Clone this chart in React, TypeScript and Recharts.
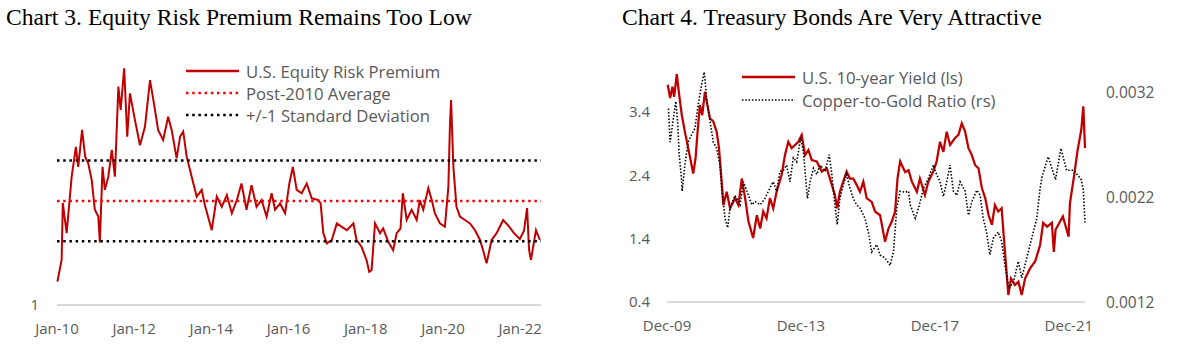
import { LineChart, Line, XAxis, YAxis, ReferenceLine } from 'recharts'

// Chart 3: U.S. equity risk premium (decimal years)
const erpYears = [
  2010.01, 2010.12, 2010.15, 2010.25, 2010.38, 2010.49, 2010.55, 2010.65, 2010.73, 2010.81,
  2010.9, 2010.98, 2011.07, 2011.11, 2011.18, 2011.24, 2011.33, 2011.42, 2011.5, 2011.59,
  2011.65, 2011.74, 2011.82, 2011.89, 2012.02, 2012.15, 2012.28, 2012.41, 2012.51, 2012.62,
  2012.75, 2012.88, 2012.97, 2013.1, 2013.19, 2013.27, 2013.36, 2013.49, 2013.62, 2013.75,
  2013.83, 2014.01, 2014.14, 2014.27, 2014.4, 2014.53, 2014.66, 2014.78, 2014.91, 2015.04,
  2015.17, 2015.3, 2015.43, 2015.56, 2015.65, 2015.78, 2015.91, 2016.02, 2016.11, 2016.21,
  2016.34, 2016.47, 2016.6, 2016.77, 2016.83, 2016.9, 2016.99, 2017.12, 2017.25, 2017.38,
  2017.51, 2017.68, 2017.76, 2017.89, 2018.02, 2018.09, 2018.15, 2018.24, 2018.37, 2018.45,
  2018.58, 2018.71, 2018.8, 2018.9, 2018.96, 2019.06, 2019.19, 2019.32, 2019.4, 2019.49,
  2019.62, 2019.71, 2019.79, 2019.92, 2020.05, 2020.14, 2020.18, 2020.21, 2020.27, 2020.35,
  2020.44, 2020.57, 2020.7, 2020.83, 2020.96, 2021.04, 2021.13, 2021.26, 2021.39, 2021.56,
  2021.72, 2021.84, 2021.99, 2022.1, 2022.18, 2022.23, 2022.28, 2022.41, 2022.51,
]
const erpValues = [
  1.55, 2.06, 3.4, 2.69, 4.02, 4.72, 4.25, 5.12, 4.49, 4.33,
  3.94, 3.24, 3.08, 2.47, 4.25, 3.71, 4.02, 4.65, 4.02, 6.14,
  5.59, 6.57, 4.96, 5.98, 5.35, 4.76, 5.2, 6.29, 5.75, 5.12,
  4.88, 5.43, 5.12, 4.45, 4.96, 5.08, 4.49, 4.02, 3.55, 3.71,
  3.35, 2.76, 3.55, 3.31, 3.59, 3.16, 3.47, 3.86, 3.24, 3.82,
  3.31, 3.47, 3.08, 3.63, 3.24, 3.39, 3.16, 3.86, 4.25, 3.71,
  3.63, 3.86, 3.51, 3.47, 3.39, 2.69, 2.45, 2.53, 2.92, 2.84,
  2.76, 2.92, 2.53, 2.37, 2.06, 1.78, 1.82, 2.92, 2.69, 2.8,
  2.49, 2.29, 2.69, 2.8, 3.63, 3.0, 3.24, 3.0, 3.47, 3.24,
  3.75, 3.47, 3.16, 2.92, 2.84, 3.78, 5.2, 5.82, 4.25, 3.31,
  3.08, 3.0, 2.92, 2.76, 2.53, 2.29, 1.98, 2.53, 2.69, 3.0,
  2.84, 2.69, 2.55, 2.75, 3.28, 2.3, 2.06, 2.76, 2.53,
]
const erpAverage = 3.45
const erpStdDev = 0.95
const janTicks = [2010, 2012, 2014, 2016, 2018, 2020, 2022]

// Chart 4: U.S. 10-year yield (ls) and copper-to-gold ratio (rs)
const yieldYears = [
  2009.94, 2010.01, 2010.08, 2010.13, 2010.21, 2010.28, 2010.36, 2010.45, 2010.55, 2010.63,
  2010.7, 2010.77, 2010.83, 2010.9, 2010.97, 2011.05, 2011.13, 2011.2, 2011.3, 2011.4,
  2011.47, 2011.55, 2011.6, 2011.7, 2011.8, 2011.95, 2012.05, 2012.15, 2012.25, 2012.35,
  2012.49, 2012.6, 2012.7, 2012.79, 2012.89, 2012.99, 2013.09, 2013.19, 2013.34, 2013.44,
  2013.54, 2013.64, 2013.74, 2013.84, 2013.94, 2014.04, 2014.14, 2014.24, 2014.39, 2014.54,
  2014.69, 2014.84, 2014.93, 2015.0, 2015.08, 2015.18, 2015.28, 2015.38, 2015.48, 2015.58,
  2015.68, 2015.78, 2015.88, 2016.03, 2016.13, 2016.28, 2016.43, 2016.53, 2016.63, 2016.73,
  2016.8, 2016.88, 2017.03, 2017.13, 2017.23, 2017.38, 2017.47, 2017.62, 2017.72, 2017.87,
  2017.97, 2018.07, 2018.17, 2018.27, 2018.37, 2018.52, 2018.62, 2018.72, 2018.82, 2018.92,
  2019.02, 2019.12, 2019.22, 2019.32, 2019.42, 2019.52, 2019.62, 2019.71, 2019.81, 2019.91,
  2020.01, 2020.11, 2020.19, 2020.31, 2020.41, 2020.51, 2020.61, 2020.76, 2020.91, 2021.06,
  2021.15, 2021.27, 2021.41, 2021.47, 2021.52, 2021.74, 2021.91, 2021.95, 2022.07, 2022.18,
  2022.29, 2022.35, 2022.4,
]
const yieldValues = [
  3.83, 3.62, 3.8, 3.64, 4.0, 3.67, 3.35, 3.09, 2.83, 2.62,
  2.43, 2.67, 3.09, 3.51, 3.35, 3.72, 3.49, 3.3, 3.25, 3.09,
  2.83, 2.3, 1.93, 2.14, 1.88, 2.04, 1.93, 2.35, 2.04, 1.67,
  1.41, 1.77, 1.56, 1.83, 1.72, 2.04, 1.88, 2.14, 2.41, 2.72,
  2.93, 2.83, 2.88, 2.93, 3.04, 2.72, 2.8, 2.64, 2.62, 2.46,
  2.51, 2.25, 2.09, 1.88, 2.14, 2.3, 2.46, 2.35, 2.35, 2.25,
  2.14, 2.3, 2.04, 1.98, 1.83, 1.77, 1.35, 1.56, 1.67, 1.83,
  2.35, 2.62, 2.45, 2.48, 2.3, 2.14, 2.35, 2.09, 2.3, 2.46,
  2.62, 2.93, 2.77, 3.09, 2.88, 2.99, 3.04, 3.22, 3.09, 2.83,
  2.72, 2.56, 2.51, 2.2, 2.04, 1.77, 1.62, 1.93, 1.83, 1.88,
  1.19, 0.51, 0.77, 0.67, 0.72, 0.51, 0.77, 0.93, 1.04, 1.3,
  1.65, 1.59, 1.65, 1.19, 1.54, 1.75, 1.43, 1.96, 2.38, 2.8,
  3.12, 3.49, 2.83,
]
const copperGoldYears = [
  2009.96, 2010.01, 2010.11, 2010.18, 2010.24, 2010.28, 2010.34, 2010.37, 2010.45, 2010.55,
  2010.65, 2010.75, 2010.85, 2010.95, 2011.03, 2011.1, 2011.2, 2011.3, 2011.4, 2011.5,
  2011.55, 2011.65, 2011.73, 2011.8, 2011.95, 2012.1, 2012.2, 2012.35, 2012.45, 2012.55,
  2012.7, 2012.84, 2012.99, 2013.09, 2013.19, 2013.29, 2013.39, 2013.49, 2013.59, 2013.69,
  2013.79, 2013.91, 2013.99, 2014.11, 2014.19, 2014.29, 2014.39, 2014.49, 2014.64, 2014.76,
  2014.84, 2014.93, 2015.0, 2015.08, 2015.18, 2015.28, 2015.38, 2015.48, 2015.58, 2015.68,
  2015.83, 2015.93, 2016.03, 2016.18, 2016.28, 2016.43, 2016.58, 2016.68, 2016.78, 2016.88,
  2017.03, 2017.13, 2017.18, 2017.33, 2017.43, 2017.58, 2017.72, 2017.87, 2017.97, 2018.07,
  2018.17, 2018.27, 2018.37, 2018.47, 2018.57, 2018.67, 2018.82, 2018.92, 2019.02, 2019.17,
  2019.27, 2019.36, 2019.46, 2019.56, 2019.66, 2019.81, 2019.91, 2020.01, 2020.13, 2020.26,
  2020.41, 2020.51, 2020.66, 2020.81, 2020.96, 2021.06, 2021.12, 2021.3, 2021.52, 2021.68,
  2021.85, 2022.07, 2022.29, 2022.35, 2022.4,
]
const copperGoldValues = [
  0.00305, 0.00273, 0.00296, 0.00312, 0.0029, 0.00261, 0.00242, 0.00226, 0.00251, 0.00273,
  0.0028, 0.00286, 0.00309, 0.00328, 0.0034, 0.00315, 0.00293, 0.00273, 0.00267, 0.00251,
  0.00229, 0.002, 0.00191, 0.0021, 0.00222, 0.00213, 0.00235, 0.00222, 0.00213, 0.00216,
  0.00213, 0.00219, 0.00229, 0.00235, 0.00226, 0.00245, 0.00246, 0.00251, 0.00235, 0.00258,
  0.00254, 0.00277, 0.00264, 0.00219, 0.00235, 0.00248, 0.00242, 0.00251, 0.00245, 0.00261,
  0.00242, 0.00213, 0.00194, 0.00219, 0.00232, 0.00242, 0.00229, 0.00219, 0.00213, 0.0021,
  0.002, 0.00187, 0.00168, 0.00175, 0.00165, 0.00162, 0.00155, 0.00168, 0.0021, 0.00226,
  0.00225, 0.00226, 0.00213, 0.002, 0.0021, 0.00229, 0.00238, 0.00251, 0.00242, 0.00235,
  0.00221, 0.00235, 0.00251, 0.00226, 0.00222, 0.00235, 0.00226, 0.00203, 0.00216, 0.00227,
  0.00222, 0.002, 0.00187, 0.00165, 0.00181, 0.00187, 0.00178, 0.00155, 0.00133, 0.00139,
  0.00159, 0.00143, 0.00162, 0.00181, 0.002, 0.00229, 0.0024, 0.00259, 0.00237, 0.00267,
  0.00246, 0.00246, 0.00237, 0.00227, 0.00196,
]
const decTicks = [2009.917, 2013.917, 2017.917, 2021.917]
const yieldTicks = [0.4, 1.4, 2.4, 3.4]
const copperGoldTicks = [0.0012, 0.0022, 0.0032]

const erpData = erpYears.map((t, i) => ({ t, erp: erpValues[i] }))
const yieldData = yieldYears.map((t, i) => ({ t, y10: yieldValues[i] }))
const copperGoldData = copperGoldYears.map((t, i) => ({ t, cg: copperGoldValues[i] }))

const RED = '#C00000'
const GRAY_TEXT = '#595959'
const tickStyle = { fill: GRAY_TEXT, fontSize: 15, fontFamily: '"Open Sans", sans-serif' }
const titleStyle = {
  position: 'absolute' as const,
  fontFamily: '"Liberation Serif", "Times New Roman", serif',
  fontSize: 23.6,
  color: '#000',
  whiteSpace: 'nowrap' as const,
  lineHeight: '26px',
}

function LegendRow({ top, left, color, dash, width, label }: any) {
  return (
    <div style={{ position: 'absolute', top: top - 11, left, height: 22, display: 'flex', alignItems: 'center', whiteSpace: 'nowrap' }}>
      <svg width={54} height={22} style={{ display: 'block' }}>
        <line x1={0} y1={11} x2={53} y2={11} stroke={color} strokeWidth={width} strokeDasharray={dash} />
      </svg>
      <span style={{ marginLeft: 6, fontSize: 16.7, color: GRAY_TEXT, fontFamily: '"Open Sans", sans-serif' }}>{label}</span>
    </div>
  )
}

export default function App() {
  return (
    <div style={{ position: 'absolute', left: 0, top: 0, width: 1181, height: 351, background: '#fff', overflow: 'hidden' }}>
      {/* Chart 3 */}
      <div style={{ ...titleStyle, left: 6, top: 4 }}>Chart 3. Equity Risk Premium Remains Too Low</div>
      <div style={{ position: 'absolute', left: 0, top: 0 }}>
        <LineChart width={560} height={351} data={erpData} margin={{ top: 50, right: 19, bottom: 16, left: 0 }}>
          <XAxis
            dataKey="t"
            type="number"
            domain={[2010, 2022.54]}
            ticks={janTicks}
            tickFormatter={(v) => `Jan-${String(Math.round(v) % 100).padStart(2, '0')}`}
            tick={tickStyle}
            tickLine={false}
            tickMargin={12}
            height={30}
            axisLine={{ stroke: '#D9D9D9', strokeWidth: 2 }}
          />
          <YAxis
            type="number"
            domain={[1, 7]}
            ticks={[1]}
            width={57}
            tick={tickStyle}
            tickLine={false}
            tickMargin={12}
            axisLine={false}
          />
          <Line type="linear" dataKey="erp" stroke={RED} strokeWidth={2} dot={false} isAnimationActive={false} />
          <ReferenceLine y={erpAverage + erpStdDev} stroke="#000" strokeWidth={2.5} strokeDasharray="2.5 3.7" />
          <ReferenceLine y={erpAverage} stroke="#FF0000" strokeWidth={2.5} strokeDasharray="2.5 3.7" />
          <ReferenceLine y={erpAverage - erpStdDev} stroke="#000" strokeWidth={2.5} strokeDasharray="2.5 3.7" />
        </LineChart>
      </div>
      <LegendRow top={71} left={186} color={RED} width={2.5} label="U.S. Equity Risk Premium" />
      <LegendRow top={93} left={186} color="#FF0000" width={2.5} dash="2.5 3.7" label="Post-2010 Average" />
      <LegendRow top={115} left={186} color="#000" width={2.5} dash="2.5 3.7" label="+/-1 Standard Deviation" />

      {/* Chart 4 */}
      <div style={{ ...titleStyle, left: 622, top: 4 }}>Chart 4. Treasury Bonds Are Very Attractive</div>
      <div style={{ position: 'absolute', left: 600, top: 0 }}>
        <LineChart width={581} height={351} margin={{ top: 66, right: 0, bottom: 19, left: 0 }}>
          <XAxis
            dataKey="t"
            type="number"
            domain={[2009.917, 2022.4]}
            ticks={decTicks}
            tickFormatter={(v) => `Dec-${String(Math.floor(v) % 100).padStart(2, '0')}`}
            tick={tickStyle}
            tickLine={false}
            tickMargin={12}
            height={30}
            axisLine={{ stroke: '#D9D9D9', strokeWidth: 2 }}
            allowDuplicatedCategory={false}
          />
          <YAxis
            yAxisId="left"
            type="number"
            domain={[0.4, 4.127]}
            ticks={yieldTicks}
            tickFormatter={(v) => v.toFixed(1)}
            width={67}
            tick={tickStyle}
            tickLine={false}
            tickMargin={11}
            axisLine={false}
          />
          <YAxis
            yAxisId="right"
            orientation="right"
            type="number"
            domain={[0.0012, 0.003458]}
            ticks={copperGoldTicks}
            tickFormatter={(v) => v.toFixed(4)}
            width={96}
            tick={{ ...tickStyle, fontSize: 15.5 }}
            tickLine={false}
            tickMargin={15}
            axisLine={false}
          />
          <Line yAxisId="left" data={yieldData} type="linear" dataKey="y10" stroke={RED} strokeWidth={2.25} dot={false} isAnimationActive={false} />
          <Line yAxisId="right" data={copperGoldData} type="linear" dataKey="cg" stroke="#000" strokeWidth={1.6} strokeDasharray="1.5 1.8" dot={false} isAnimationActive={false} />
        </LineChart>
      </div>
      <LegendRow top={77} left={742} color={RED} width={2.5} label="U.S. 10-year Yield (ls)" />
      <LegendRow top={100} left={742} color="#000" width={1.6} dash="1.5 1.8" label="Copper-to-Gold Ratio (rs)" />
    </div>
  )
}
